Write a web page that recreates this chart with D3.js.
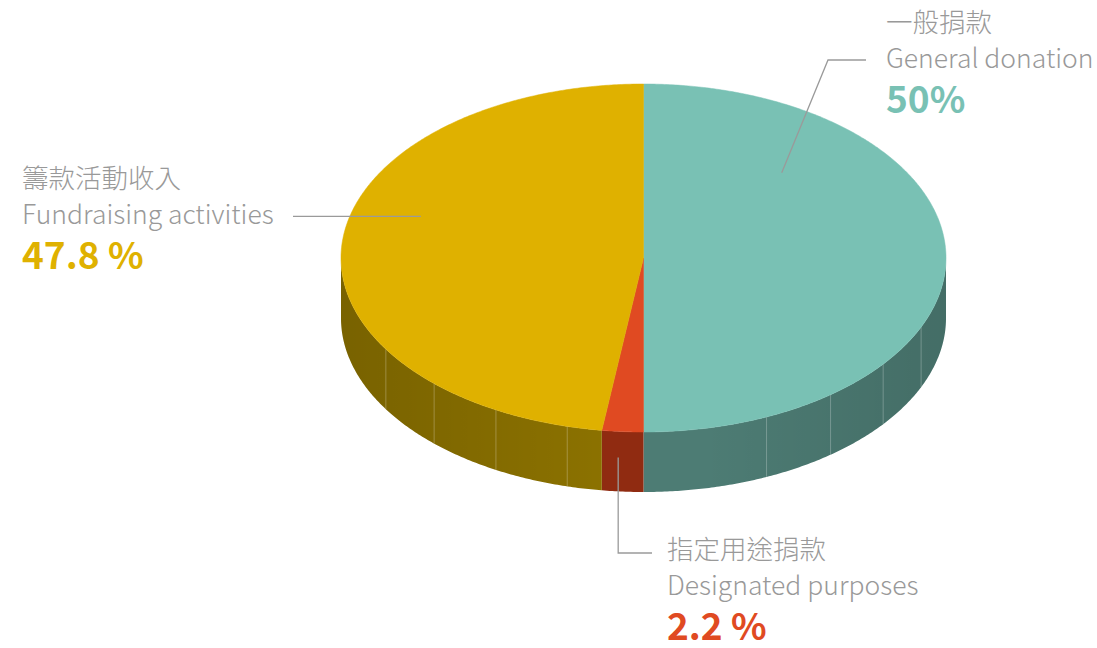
<!DOCTYPE html>
<html>
<head>
	<meta charset="utf-8">
	<title>3D pie</title>
	<script src="https://d3js.org/d3.v7.min.js"></script>
	<style>
		body { margin: 0; background: #fff; }
		text { font-family: 'Noto Sans CJK TC', 'Noto Sans', sans-serif; }
	</style>
</head>
<body>
	<div class="chart"></div>

	<script type="text/javascript">
		// data
		var namesZh = ['一般捐款', '指定用途捐款', '籌款活動收入']
		var namesEn = ['General donation', 'Designated purposes', 'Fundraising activities']
		var values = [50, 2.2, 47.8]
		var valueLabels = ['50%', '2.2 %', '47.8 %']

		var topColor = ['#79c1b4', '#e04a22', '#dfb100']
		var sideColor = ['#4d7c74', '#902b11', '#8c7200']

		var width = 1097
		var height = 648
		var cx = 643.5, cy = 258, rx = 302.5, ry = 174, depth = 60

		var svg = d3.select('.chart').append('svg')
			.attr('width', width)
			.attr('height', height)

		// angle in degrees, clockwise from 12 o'clock
		function pt(a, r, z) {
			var t = a * Math.PI / 180
			return [cx + rx * r * Math.sin(t), cy - ry * r * Math.cos(t) + (z || 0)]
		}

		var pie = d3.pie().sort(null).value(d => d)
		var arcs = pie(values).map((d, i) => ({
			i: i,
			a0: d.startAngle * 180 / Math.PI,
			a1: d.endAngle * 180 / Math.PI
		}))

		var line = d3.line()

		// shading for the side
		var defs = svg.append('defs')
		var grad = defs.append('linearGradient')
			.attr('id', 'shade')
			.attr('gradientUnits', 'userSpaceOnUse')
			.attr('x1', cx - rx).attr('x2', cx + rx)
			.attr('y1', 0).attr('y2', 0)
		grad.append('stop').attr('offset', '0%').attr('stop-color', '#000').attr('stop-opacity', 0.14)
		grad.append('stop').attr('offset', '45%').attr('stop-color', '#000').attr('stop-opacity', 0)
		grad.append('stop').attr('offset', '60%').attr('stop-color', '#000').attr('stop-opacity', 0)
		grad.append('stop').attr('offset', '100%').attr('stop-color', '#000').attr('stop-opacity', 0.12)

		function sidePath(a0, a1) {
			var s = Math.max(a0, 90), e = Math.min(a1, 270)
			if (e <= s) return null
			var top = d3.range(s, e, 0.5).concat([e]).map(a => pt(a, 1, 0))
			var bot = d3.range(e, s, -0.5).concat([s]).map(a => pt(a, 1, depth))
			return line(top.concat(bot)) + 'Z'
		}

		var sides = svg.append('g').attr('class', 'sides')
		arcs.forEach(d => {
			var p = sidePath(d.a0, d.a1)
			if (!p) return
			sides.append('path').attr('d', p).attr('fill', sideColor[d.i])
			sides.append('path').attr('d', p).attr('fill', 'url(#shade)')
		})

		// faint seams on the side
		var seams = d3.range(1, 5).map(k => 180 + k * 14.6)
			.concat(d3.range(0, 4).map(k => 156 - k * 14.2))
		sides.selectAll('line.seam')
			.data(seams)
			.enter()
			.append('line')
			.attr('class', 'seam')
			.attr('x1', a => pt(a, 1, 0)[0])
			.attr('y1', a => pt(a, 1, 0)[1])
			.attr('x2', a => pt(a, 1, depth)[0])
			.attr('y2', a => pt(a, 1, depth)[1])
			.attr('stroke', '#fff')
			.attr('stroke-opacity', 0.25)
			.attr('stroke-width', 1)

		// top faces
		var tops = svg.append('g').attr('class', 'tops')
		arcs.forEach(d => {
			var pts = [[cx, cy]].concat(d3.range(d.a0, d.a1, 0.5).concat([d.a1]).map(a => pt(a, 1, 0)))
			tops.append('path')
				.attr('d', line(pts) + 'Z')
				.attr('fill', topColor[d.i])
				.attr('stroke', topColor[d.i])
				.attr('stroke-width', 0.5)
		})

		// labels
		var labelLayout = [
			{ angle: 43, r: 0.67, z: 0, path: (p) => [p, [828, 60], [866, 60]], x: 886, y: 32 },
			{ angle: 184.8, r: 1, z: 26, path: (p) => [p, [p[0], 553], [652, 553]], x: 667, y: 559 },
			{ angle: 288, r: 0.774, z: 0, path: (p) => [p, [293, p[1]]], x: 22, y: 188 }
		]

		var labels = svg.append('g').attr('class', 'labels')
		labelLayout.forEach((l, i) => {
			var p = pt(l.angle, l.r, l.z)
			labels.append('path')
				.attr('d', line(l.path(p)))
				.attr('fill', 'none')
				.attr('stroke', '#9a9a9a')
				.attr('stroke-width', 1.3)
			var g = labels.append('g').attr('transform', `translate(${l.x}, ${l.y})`)
			g.append('text').attr('y', 0).attr('font-size', 26.5).attr('font-weight', 300)
				.attr('fill', '#999').text(namesZh[i])
			g.append('text').attr('y', 36).attr('font-size', 26.5).attr('font-weight', 300)
				.attr('fill', '#999').text(namesEn[i])
			g.append('text').attr('y', 81).attr('font-size', 37).attr('font-weight', 'bold')
				.attr('fill', topColor[i]).text(valueLabels[i])
		})
	</script>
</body>
</html>
